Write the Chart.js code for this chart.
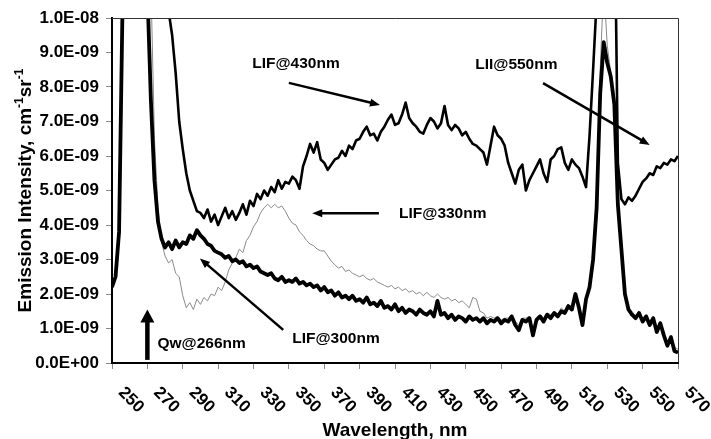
<!DOCTYPE html>
<html>
<head>
<meta charset="utf-8">
<script src="https://cdn.jsdelivr.net/npm/chart.js@4.4.1/dist/chart.umd.min.js"></script>
<style>
  html, body { margin: 0; padding: 0; background: #fff; }
  #wrap { width: 711px; height: 439px; }
</style>
</head>
<body>
<div id="wrap"><canvas id="chart" width="711" height="439"></canvas></div>
<script>
// wavelength grid, nm
const wavelengths = [
  250, 252, 254, 256, 258, 260, 262, 264, 266, 268,
  270, 272, 274, 276, 278, 280, 282, 284, 286, 288,
  290, 292, 294, 296, 298, 300, 302, 304, 306, 308,
  310, 312, 314, 316, 318, 320, 322, 324, 326, 328,
  330, 332, 334, 336, 338, 340, 342, 344, 346, 348,
  350, 352, 354, 356, 358, 360, 362, 364, 366, 368,
  370, 372, 374, 376, 378, 380, 382, 384, 386, 388,
  390, 392, 394, 396, 398, 400, 402, 404, 406, 408,
  410, 412, 414, 416, 418, 420, 422, 424, 426, 428,
  430, 432, 434, 436, 438, 440, 442, 444, 446, 448,
  450, 452, 454, 456, 458, 460, 462, 464, 466, 468,
  470, 472, 474, 476, 478, 480, 482, 484, 486, 488,
  490, 492, 494, 496, 498, 500, 502, 504, 506, 508,
  510, 512, 514, 516, 518, 520, 522, 524, 526, 528,
  530, 532, 534, 536, 538, 540, 542, 544, 546, 548,
  550, 552, 554, 556, 558, 560, 562, 564, 566, 568,
  570
];

// emission intensity in units of 1E-09 (values past 10 run off the top)
const lif300 = [
  2.2, 2.5, 3.8, 10.5, 16, 20, 20, 20, 20, 16,
  10.8, 7.6, 5.3, 4.1, 3.6, 3.35, 3.5, 3.3, 3.55, 3.35,
  3.5, 3.45, 3.7, 3.6, 3.85, 3.7, 3.6, 3.45, 3.4, 3.25,
  3.2, 3.15, 3.05, 3.1, 2.95, 3.0, 2.9, 2.95, 2.8, 2.85,
  2.75, 2.8, 2.65, 2.6, 2.55, 2.6, 2.45, 2.4, 2.5, 2.35,
  2.4, 2.35, 2.45, 2.3, 2.35, 2.25, 2.3, 2.2, 2.25, 2.1,
  2.2, 2.05, 2.1, 1.95, 2.05, 1.9, 1.95, 1.85, 1.95, 1.8,
  1.85, 1.75, 1.9, 1.7, 1.75, 1.65, 1.8, 1.6, 1.65, 1.55,
  1.7, 1.5, 1.6, 1.45, 1.55, 1.5, 1.4, 1.55, 1.45, 1.4,
  1.5, 1.35, 1.8, 1.4, 1.45, 1.3, 1.4, 1.25, 1.35, 1.3,
  1.2, 1.35, 1.25, 1.3, 1.2, 1.3, 1.15, 1.25, 1.2, 1.3,
  1.15, 1.25, 1.2, 1.35, 1.1, 0.95, 1.25, 1.2, 1.3, 0.8,
  1.25, 1.35, 1.2, 1.4, 1.3, 1.45, 1.35, 1.5, 1.45, 1.65,
  1.55, 2.0, 1.6, 1.1, 1.85, 2.2, 3.0, 4.5, 7.8, 9.3,
  8.7, 8.3, 7.5, 4.6, 3.3, 2.0, 1.55, 1.4, 1.3, 1.45,
  1.2, 1.35, 1.1, 1.3, 0.9, 1.15, 0.8, 0.5, 0.75, 0.35,
  0.3
];

const lif330 = [
  2.2, 2.5, 3.8, 10.5, 16, 20, 20, 20, 20, 20,
  20, 11, 6.5, 4.5, 3.5, 3.1, 2.9, 3.0, 2.6, 2.5,
  1.95, 1.6, 1.75, 1.55, 1.85, 1.7, 1.9, 1.8, 2.0, 1.95,
  2.2, 2.1, 2.35, 2.7, 2.9, 3.05, 3.3, 3.2, 3.55, 3.7,
  3.95, 4.1, 4.35, 4.5, 4.6, 4.5, 4.6, 4.5, 4.55, 4.4,
  4.2, 4.05, 4.0, 3.8, 3.7, 3.55, 3.45, 3.4, 3.3, 3.25,
  3.25, 3.1, 2.95, 2.85, 2.75, 2.8, 2.65, 2.7, 2.6, 2.55,
  2.5, 2.55, 2.45, 2.4, 2.45, 2.35, 2.3, 2.25, 2.2, 2.25,
  2.15, 2.2, 2.1, 2.15, 2.05, 2.1, 2.0, 2.05, 1.95, 2.05,
  1.95, 1.9, 2.0, 1.9, 1.85, 1.9, 1.8, 1.85, 1.75, 1.8,
  1.7, 1.6, 1.9, 1.85, 1.5, 1.45, 1.3, 1.35, 1.3, 1.35,
  1.25, 1.3, 1.3, 1.4, 1.2, 1.1, 1.3, 1.3, 1.35, 1.0,
  1.3, 1.4, 1.3, 1.45, 1.4, 1.5, 1.4, 1.6, 1.5, 1.7,
  1.6, 1.95, 1.7, 1.3, 1.9, 2.3, 3.2, 4.6, 8.5, 11,
  9.2, 8.4, 7.7, 4.8, 3.3, 2.1, 1.6, 1.5, 1.35, 1.5,
  1.25, 1.4, 1.2, 1.35, 1.0, 1.2, 0.9, 0.6, 0.8, 0.45,
  0.4
];

const lif430 = [
  20, 20, 20, 20, 20, 20, 20, 20, 20, 20,
  20, 20, 20, 20, 20, 14, 10.2, 9.5, 8.4, 7.0,
  6.2, 5.5, 5.0, 4.7, 4.4, 4.35, 4.2, 4.45, 4.1, 4.3,
  4.0, 4.25, 4.5, 4.2, 4.4, 4.15, 4.35, 4.6, 4.3, 4.7,
  4.55, 4.9, 4.75, 5.0, 4.85, 5.1, 4.95, 5.3, 5.05, 5.25,
  5.2, 5.4, 5.3, 5.05, 5.7, 6.0, 6.35, 6.1, 6.4, 5.9,
  5.8, 5.6, 5.75, 5.9, 5.95, 6.15, 6.0, 6.3, 6.2, 6.45,
  6.5, 6.7, 6.85, 6.6, 6.65, 6.45, 6.7, 6.85, 7.05, 7.2,
  6.9, 6.95, 7.2, 7.55, 7.1, 6.95, 6.85, 6.7, 6.65, 6.9,
  7.1, 7.0, 6.8, 6.95, 7.45, 6.9, 6.75, 6.9, 6.8, 6.6,
  6.7, 6.5, 6.35, 6.3, 6.2, 6.1, 5.75, 6.3, 6.85, 6.6,
  6.5, 6.3, 5.8, 5.5, 5.2, 5.6, 5.75, 5.0, 5.3, 5.5,
  5.7, 5.9, 5.5, 5.25, 5.9, 6.0, 6.2, 6.25, 5.8, 5.6,
  5.9, 5.75, 5.65, 5.4, 5.1, 6.6, 8.5, 10.5, 15, 20,
  20, 20, 14, 5.8, 4.75, 4.6, 4.8, 4.7, 4.85, 5.05,
  5.25, 5.35, 5.5, 5.45, 5.7, 5.65, 5.8, 5.75, 5.9, 5.85,
  6.0
];

const xTicks = [250, 270, 290, 310, 330, 350, 370, 390, 410, 430, 450, 470, 490, 510, 530, 550, 570];
const yTickLabels = [
  "0.0E+00", "1.0E-09", "2.0E-09", "3.0E-09", "4.0E-09", "5.0E-09",
  "6.0E-09", "7.0E-09", "8.0E-09", "9.0E-09", "1.0E-08"
];

// callouts, placed in data units: text centre, arrow tail, arrow tip
const notes = [
  { text: "LIF@430nm", at: [354, 8.67], from: [350, 8.12], to: [401.5, 7.48] },
  { text: "LII@550nm", at: [478.6, 8.64], from: [493.7, 8.11], to: [554, 6.32] },
  { text: "LIF@330nm", at: [437, 4.33], from: [400.9, 4.34], to: [363.2, 4.34] },
  { text: "LIF@300nm", at: [376.6, 0.7], from: [346.8, 0.96], to: [299.7, 3.03] },
  { text: "Qw@266nm", at: [300.7, 0.55], from: [270, 0.09], to: [270, 1.55], heavy: true },
];

const FONT = '"Liberation Sans", Arial, sans-serif';

function toPoints(values) {
  return wavelengths.map((w, i) => ({ x: w, y: values[i] }));
}

function arrow(ctx, x1, y1, x2, y2, lw, hl, hw) {
  const a = Math.atan2(y2 - y1, x2 - x1);
  ctx.save();
  ctx.strokeStyle = "#000";
  ctx.fillStyle = "#000";
  ctx.lineWidth = lw;
  ctx.beginPath();
  ctx.moveTo(x1, y1);
  ctx.lineTo(x2 - Math.cos(a) * hl * 0.8, y2 - Math.sin(a) * hl * 0.8);
  ctx.stroke();
  ctx.translate(x2, y2);
  ctx.rotate(a);
  ctx.beginPath();
  ctx.moveTo(0, 0);
  ctx.lineTo(-hl, -hw / 2);
  ctx.lineTo(-hl, hw / 2);
  ctx.closePath();
  ctx.fill();
  ctx.restore();
}

const overlay = {
  id: "overlay",
  afterDraw(chart) {
    const { ctx, chartArea: a } = chart;
    const x = chart.scales.x;
    const y = chart.scales.y;
    ctx.save();

    // top and right edges of the plot box
    ctx.strokeStyle = "#333";
    ctx.lineWidth = 1;
    ctx.beginPath();
    ctx.moveTo(a.left, a.top + 0.5);
    ctx.lineTo(a.right + 0.5, a.top + 0.5);
    ctx.lineTo(a.right + 0.5, a.bottom);
    ctx.stroke();

    // x tick labels, turned down to the right
    ctx.fillStyle = "#000";
    ctx.font = `bold 17px ${FONT}`;
    ctx.textAlign = "center";
    ctx.textBaseline = "middle";
    for (const t of xTicks) {
      ctx.save();
      ctx.translate(x.getPixelForValue(t) + 19, a.bottom + 37);
      ctx.rotate(Math.PI / 4);
      ctx.fillText(String(t), 0, 0);
      ctx.restore();
    }

    // x title
    ctx.font = `bold 19px ${FONT}`;
    ctx.textBaseline = "alphabetic";
    ctx.fillText("Wavelength, nm", (a.left + a.right) / 2, 436);

    // y title with superscripts
    const parts = [
      ["Emission Intensity, cm", false],
      ["-1", true],
      ["sr", false],
      ["-1", true],
    ];
    const big = `bold 19px ${FONT}`;
    const small = `bold 12px ${FONT}`;
    let total = 0;
    for (const [s, sup] of parts) {
      ctx.font = sup ? small : big;
      total += ctx.measureText(s).width;
    }
    ctx.save();
    ctx.translate(31, (a.top + a.bottom) / 2);
    ctx.rotate(-Math.PI / 2);
    ctx.textAlign = "left";
    let cx = -total / 2;
    for (const [s, sup] of parts) {
      ctx.font = sup ? small : big;
      ctx.fillText(s, cx, sup ? -8 : 0);
      cx += ctx.measureText(s).width;
    }
    ctx.restore();

    // callouts
    ctx.font = `bold 15.5px ${FONT}`;
    ctx.textAlign = "center";
    ctx.textBaseline = "middle";
    for (const n of notes) {
      ctx.fillText(n.text, x.getPixelForValue(n.at[0]), y.getPixelForValue(n.at[1]));
      const x1 = x.getPixelForValue(n.from[0]);
      const y1 = y.getPixelForValue(n.from[1]);
      const x2 = x.getPixelForValue(n.to[0]);
      const y2 = y.getPixelForValue(n.to[1]);
      if (n.heavy) arrow(ctx, x1, y1, x2, y2, 4.5, 13, 14);
      else arrow(ctx, x1, y1, x2, y2, 2.5, 10, 8);
    }
    ctx.restore();
  },
};

new Chart(document.getElementById("chart"), {
  type: "line",
  data: {
    datasets: [
      { label: "LIF@430nm", data: toPoints(lif430), borderColor: "#000", borderWidth: 2.6 },
      { label: "LIF@300nm", data: toPoints(lif300), borderColor: "#000", borderWidth: 3.8 },
      { label: "LIF@330nm", data: toPoints(lif330), borderColor: "#8a8a8a", borderWidth: 1 },
    ],
  },
  options: {
    responsive: false,
    animation: false,
    devicePixelRatio: 1,
    layout: { padding: { left: 0, right: 33, top: 18, bottom: 0 } },
    elements: {
      point: { radius: 0 },
      line: { tension: 0, borderJoinStyle: "round", fill: false },
    },
    datasets: { line: { clip: 0 } },
    scales: {
      x: {
        type: "linear",
        min: 250,
        max: 570,
        afterBuildTicks: (s) => { s.ticks = xTicks.map((v) => ({ value: v })); },
        afterFit: (s) => { s.height = 76; },
        ticks: { display: false },
        grid: { drawOnChartArea: false, drawTicks: true, tickLength: 6, color: "#888" },
        border: { display: true, color: "#000", width: 2 },
      },
      y: {
        min: 0,
        max: 10,
        afterFit: (s) => { s.width = 112; },
        ticks: {
          stepSize: 1,
          padding: 7,
          color: "#000",
          font: { family: FONT, size: 17, weight: "bold" },
          callback: (v, i) => yTickLabels[i],
        },
        grid: { drawOnChartArea: false, drawTicks: true, tickLength: 6, color: "#888" },
        border: { display: true, color: "#000", width: 2 },
      },
    },
    plugins: {
      legend: { display: false },
      tooltip: { enabled: false },
    },
  },
  plugins: [overlay],
});
</script>
</body>
</html>
